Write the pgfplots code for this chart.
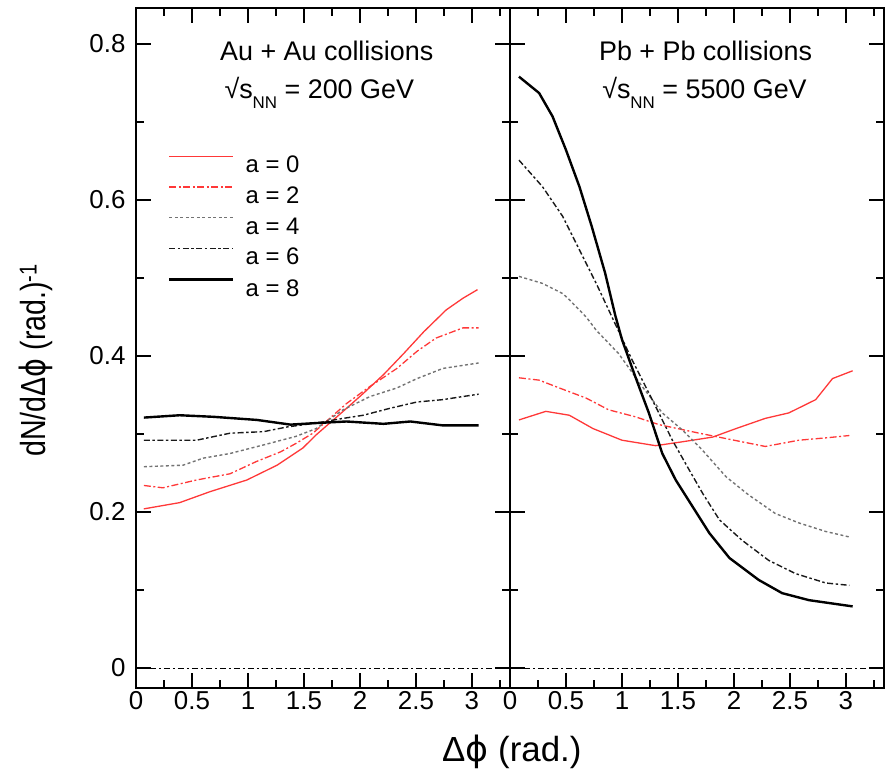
\documentclass[border=0pt]{standalone}
\usepackage{pgfplots}
\pgfplotsset{compat=1.18}
\usepackage{fontspec}
\setmainfont{Liberation Sans}
\newfontfamily\cond{Liberation Sans}[FakeStretch=0.82]
\newfontfamily\dvs{DejaVu Sans}
\newfontfamily\dvscond{DejaVu Sans}[FakeStretch=0.82]

\definecolor{lred}{rgb}{1,0.22,0.22}

\tikzset{
  c0/.style={lred, line width=1.3bp, solid},
  c2/.style={lred, line width=1.3bp, dash pattern=on 7bp off 2.5bp on 2bp off 2.5bp},
  c4/.style={black!55, line width=1.4bp, dash pattern=on 3bp off 2.5bp},
  c6/.style={black!90, line width=1.4bp, dash pattern=on 6bp off 2.5bp on 2.5bp off 2.5bp},
  c8/.style={black, line width=2.4bp, solid},
  zl/.style={black, line width=1bp, dash pattern=on 6bp off 3bp on 2bp off 3bp},
}

\pgfplotsset{
  panel/.style={
    scale only axis, width=374bp, height=680bp, clip=false,
    xmin=0, xmax=3.34, ymin=-0.0256, ymax=0.846,
    xtick={0,0.5,1,1.5,2,2.5,3},
    minor xtick={0.25,0.75,1.25,1.75,2.25,2.75,3.25},
    ytick={0,0.2,0.4,0.6,0.8},
    minor ytick={0.1,0.3,0.5,0.7},
    tick align=inside,
    major tick length=15bp, minor tick length=8bp,
    every tick/.style={line width=2.2bp, black},
    axis line style={line width=2.6bp},
    ticklabel style={font=\fontsize{26}{26}\selectfont},
    /pgf/number format/assume math mode=true,
    yticklabel style={xshift=-7bp},
    legend image code/.code={\draw[##1] (0bp,8bp) -- (64bp,8bp);},
  },
}

\begin{document}
\begin{tikzpicture}
\begin{axis}[panel, name=left, at={(0,0)}, anchor=south west,
  legend style={at={(rel axis cs:0.0856,0.783)}, anchor=north west,
    draw=none, fill=none, inner sep=0pt, row sep=13.5bp,
    font=\fontsize{24}{24}\selectfont,
    nodes={inner sep=0pt, text height=17bp, text depth=0bp},
    column sep=11bp},
  legend cell align=left]
\addplot[c0] coordinates {(0.07,0.204) (0.39,0.212) (0.66,0.226) (0.99,0.241) (1.26,0.260) (1.49,0.282) (1.61,0.299) (1.73,0.314) (1.85,0.329) (2.03,0.352) (2.21,0.376) (2.39,0.403) (2.57,0.431) (2.77,0.459) (2.92,0.474) (3.05,0.485)};
\addlegendentry{a = 0}
\addplot[c2] coordinates {(0.07,0.234) (0.24,0.231) (0.54,0.241) (0.84,0.249) (1.08,0.265) (1.29,0.277) (1.43,0.288) (1.58,0.301) (1.73,0.320) (1.88,0.339) (2.09,0.361) (2.33,0.384) (2.51,0.406) (2.68,0.423) (2.92,0.436) (3.06,0.436)};
\addlegendentry{a = 2}
\addplot[c4] coordinates {(0.07,0.258) (0.42,0.260) (0.60,0.269) (0.84,0.275) (1.14,0.286) (1.43,0.297) (1.61,0.307) (1.85,0.331) (2.09,0.348) (2.33,0.359) (2.51,0.371) (2.74,0.384) (3.06,0.391)};
\addlegendentry{a = 4}
\addplot[c6] coordinates {(0.07,0.292) (0.30,0.292) (0.54,0.292) (0.84,0.301) (1.14,0.303) (1.35,0.309) (1.61,0.314) (1.85,0.320) (2.03,0.324) (2.27,0.333) (2.51,0.341) (2.74,0.344) (2.92,0.348) (3.06,0.351)};
\addlegendentry{a = 6}
\addplot[c8] coordinates {(0.07,0.321) (0.39,0.324) (0.69,0.322) (1.08,0.318) (1.38,0.312) (1.61,0.314) (1.88,0.316) (2.21,0.313) (2.45,0.316) (2.74,0.311) (3.06,0.311)};
\addlegendentry{a = 8}
\addplot[zl, forget plot] coordinates {(0,0) (3.34,0)};
\node[anchor=base, font=\fontsize{27}{27}\selectfont] at (rel axis cs:0.51,0.9235) {Au + Au collisions};
\node[anchor=base, font=\fontsize{27}{27}\selectfont] at (rel axis cs:0.49,0.8676) {√s\raisebox{-10bp}{\fontsize{17}{17}\selectfont NN} = 200 GeV};
\node[rotate=90, font=\fontsize{35}{35}\selectfont\cond] at (rel axis cs:-0.2674,0.482) {dN/dΔ{\dvscond ϕ} (rad.)\textsuperscript{-1}};
\node[font=\fontsize{35}{35}\selectfont] at (rel axis cs:1.005,-0.0941) {Δ{\dvs ϕ} (rad.)};
\end{axis}
\begin{axis}[panel, name=right, at={(left.south east)}, anchor=south west, yticklabels={}]
\addplot[c0] coordinates {(0.08,0.318) (0.32,0.329) (0.53,0.324) (0.74,0.307) (1.00,0.292) (1.30,0.285) (1.54,0.290) (1.81,0.296) (2.02,0.307) (2.28,0.320) (2.49,0.327) (2.73,0.344) (2.88,0.371) (3.06,0.381)};
\addplot[c2] coordinates {(0.08,0.372) (0.26,0.369) (0.44,0.359) (0.68,0.346) (0.88,0.331) (1.12,0.322) (1.33,0.312) (1.69,0.301) (2.07,0.290) (2.28,0.284) (2.58,0.292) (2.82,0.295) (3.03,0.298)};
\addplot[c4] coordinates {(0.08,0.502) (0.29,0.493) (0.47,0.480) (0.53,0.472) (0.68,0.450) (0.77,0.433) (0.97,0.403) (1.18,0.361) (1.36,0.327) (1.54,0.305) (1.72,0.279) (1.93,0.245) (2.13,0.222) (2.37,0.198) (2.58,0.186) (2.82,0.175) (3.03,0.168)};
\addplot[c6] coordinates {(0.08,0.651) (0.29,0.617) (0.47,0.579) (0.62,0.536) (0.77,0.493) (1.09,0.395) (1.27,0.344) (1.45,0.292) (1.60,0.254) (1.72,0.224) (1.87,0.190) (2.07,0.164) (2.31,0.138) (2.55,0.121) (2.82,0.109) (3.03,0.106)};
\addplot[c8] coordinates {(0.08,0.758) (0.26,0.737) (0.38,0.707) (0.50,0.664) (0.62,0.617) (0.73,0.566) (0.85,0.506) (0.94,0.452) (1.00,0.421) (1.12,0.373) (1.24,0.327) (1.36,0.275) (1.48,0.241) (1.63,0.207) (1.78,0.173) (1.96,0.141) (2.22,0.113) (2.43,0.096) (2.67,0.087) (3.06,0.079)};
\addplot[zl] coordinates {(0,0) (3.34,0)};
\node[anchor=base, font=\fontsize{27}{27}\selectfont] at (rel axis cs:0.523,0.9235) {Pb + Pb collisions};
\node[anchor=base, font=\fontsize{27}{27}\selectfont] at (rel axis cs:0.52,0.8676) {√s\raisebox{-10bp}{\fontsize{17}{17}\selectfont NN} = 5500 GeV};
\end{axis}
\pgfresetboundingbox
\path (-136bp,-87bp) rectangle (752bp,688bp);
\end{tikzpicture}
\end{document}
